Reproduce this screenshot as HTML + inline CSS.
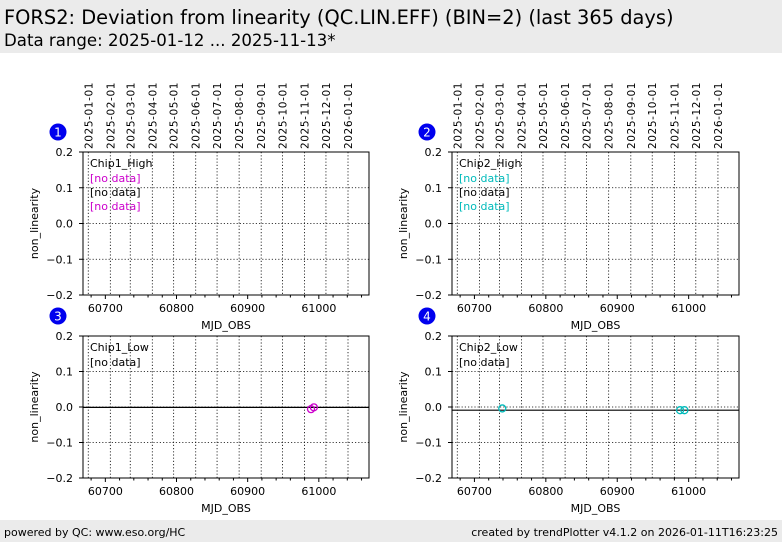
<!DOCTYPE html>
<html><head><meta charset="utf-8">
<style>
body{margin:0;width:782px;height:542px;background:#fff;font-family:"DejaVu Sans","Liberation Sans",sans-serif;overflow:hidden;position:relative}
#hdr{position:absolute;left:0;top:0;width:782px;height:53px;background:#ebebeb}
#t1{position:absolute;left:4px;top:6px;font-size:19.4px;color:#000;white-space:nowrap}
#t2{position:absolute;left:4px;top:31px;font-size:16.6px;color:#000;white-space:nowrap}
#ftr{position:absolute;left:0;top:520px;width:782px;height:22px;background:#ebebeb;font-size:11px}
#ftr span{position:absolute;top:6px}
svg{position:absolute;left:0;top:0}
</style></head><body>
<div id="hdr">
<div id="t1">FORS2: Deviation from linearity (QC.LIN.EFF) (BIN=2) (last 365 days)</div>
<div id="t2">Data range: 2025-01-12 ... 2025-11-13*</div>
</div>
<div id="ftr">
<span style="left:4px">powered by QC: www.eso.org/HC</span>
<span style="right:4px">created by trendPlotter v4.1.2 on 2026-01-11T16:23:25</span>
</div>
<svg id="svg" width="782" height="542" xmlns="http://www.w3.org/2000/svg"></svg>
<script>
const xTicks=[60700,60800,60900,61000];
const yTicks=[0.2,0.1,0.0,-0.1,-0.2];
const yTickLabels=["0.2","0.1","0.0","\u22120.1","\u22120.2"];
const dateLabels=["2025-01-01","2025-02-01","2025-03-01","2025-04-01","2025-05-01","2025-06-01","2025-07-01","2025-08-01","2025-09-01","2025-10-01","2025-11-01","2025-12-01","2026-01-01"];
const dateMjd=[60676,60707,60735,60766,60796,60827,60857,60888,60919,60949,60980,61010,61041];
const panelNames=["Chip1_High","Chip2_High","Chip1_Low","Chip2_Low"];
const p3X=[60989,60993];
const p3Y=[-0.006,-0.001];
const p4X=[60739,60988,60994];
const p4Y=[-0.004,-0.009,-0.009];
const p3Mean=-0.001;
const p4Mean=-0.009;
const xMin=60668.6,xMax=61070.5,yMin=-0.2,yMax=0.2;
const NS="http://www.w3.org/2000/svg";
const svg=document.getElementById('svg');
function mk(tag,attrs,parent){const e=document.createElementNS(NS,tag);for(const k in attrs)e.setAttribute(k,attrs[k]);(parent||svg).appendChild(e);return e;}
const panels=[
 {l:83,r:369,t:152,b:295,num:"1",legend:[["#cc00cc","[no data]"],["#000","[no data]"],["#cc00cc","[no data]"]],dates:true},
 {l:452,r:739,t:152,b:295,num:"2",legend:[["#00bbbb","[no data]"],["#000","[no data]"],["#00bbbb","[no data]"]],dates:true},
 {l:83,r:369,t:336,b:478,num:"3",legend:[["#000","[no data]"]],xs:p3X,ys:p3Y,col:"#cc00cc",mean:p3Mean},
 {l:452,r:739,t:336,b:478,num:"4",legend:[["#000","[no data]"]],xs:p4X,ys:p4Y,col:"#00bbbb",mean:p4Mean}
];
panels.forEach((p,i)=>{
 const g=mk('g',{});
 
 
 const sx=v=>p.l+(v-xMin)/(xMax-xMin)*(p.r-p.l);
 const sy=v=>p.b-(v-yMin)/(yMax-yMin)*(p.b-p.t);
 dateMjd.forEach((m,k)=>{const x=sx(m);
  const gl=mk('line',{x1:x,x2:x,y1:p.t,y2:p.b,stroke:'#000','stroke-width':0.8,'stroke-dasharray':'1.2,2'},g);
  
  
  if(p.dates){const tx=mk('text',{x:x+4,y:p.t-3,'font-size':10.5,transform:`rotate(-90 ${x+4} ${p.t-3})`,fill:'#000','letter-spacing':'0.6'},g);tx.textContent=dateLabels[k];
   
   }
 });
 yTicks.forEach((v,k)=>{const y=sy(v);
  if(v<0.15&&v>-0.15){const yl=mk('line',{x1:p.l,x2:p.r,y1:y,y2:y,stroke:'#000','stroke-width':0.8,'stroke-dasharray':'1.2,2'},g);
   
   }
  mk('line',{x1:p.l-4,x2:p.l,y1:y,y2:y,stroke:'#000'},g);
  const t=mk('text',{x:p.l-10,y:y+4,'font-size':11,'text-anchor':'end'},g);t.textContent=yTickLabels[k];
  
  
 });
 for(let m=60680;m<=61060;m+=20){const x=sx(m);mk('line',{x1:x,x2:x,y1:p.b,y2:p.b+(m%100===0?4:2.5),stroke:'#000'},g);}
 xTicks.forEach(m=>{const x=sx(m);const t=mk('text',{x:x,y:p.b+17,'font-size':11,'text-anchor':'middle'},g);t.textContent=m;
  
  });
 const xl=mk('text',{x:(p.l+p.r)/2,y:p.b+34,'font-size':11,'text-anchor':'middle'},g);xl.textContent='MJD_OBS';
 
 
 const yx=p.l-45,yy=(p.t+p.b)/2;
 const yl=mk('text',{x:yx,y:yy,'font-size':11,'text-anchor':'middle',transform:`rotate(-90 ${yx} ${yy})`},g);yl.textContent='non_linearity';
 
 
 if(p.mean!==undefined){const ml=mk('line',{x1:p.l,x2:p.r,y1:sy(p.mean),y2:sy(p.mean),stroke:'#000','stroke-width':1.2},g);
  
  }
 if(p.xs){p.xs.forEach((m,k)=>{const c=mk('circle',{cx:sx(m),cy:sy(p.ys[k]),r:3.5,fill:'none',stroke:p.col,'stroke-width':1.3},g);
  
  });}
 mk('rect',{x:p.l,y:p.t,width:p.r-p.l,height:p.b-p.t,fill:'none',stroke:'#000','stroke-width':1},g);
 const lt=mk('text',{x:p.l+7,y:p.t+15,'font-size':11},g);lt.textContent=panelNames[i];
 
 
 p.legend.forEach((e,k)=>{const t=mk('text',{x:p.l+7,y:p.t+30+k*14,'font-size':11,fill:e[0]},g);t.textContent=e[1];
  
  });
 const bx=p.l-25,by=p.t-20;
 const bc=mk('circle',{cx:bx,cy:by,r:8.5,fill:'#0000ee'},g);
 
 
 const bt=mk('text',{x:bx,y:by+4.5,'font-size':12,'text-anchor':'middle',fill:'#fff'},g);bt.textContent=p.num;
 
 
});
</script>
</body></html>
